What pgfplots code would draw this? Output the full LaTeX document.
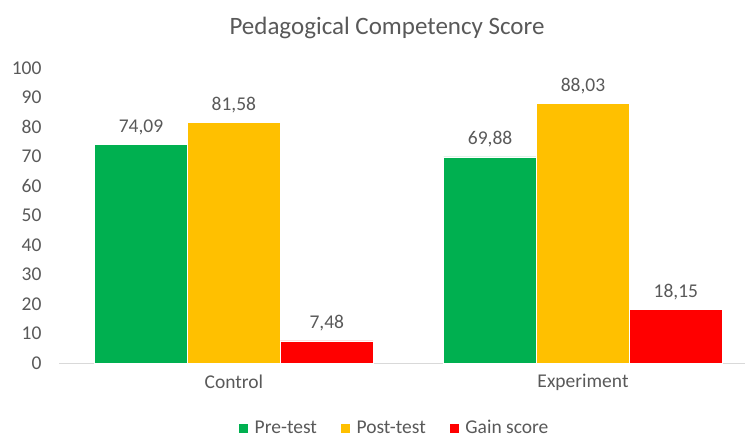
\documentclass[border=0pt]{standalone}
\usepackage{pgfplots}
\pgfplotsset{compat=1.18}
\usepackage{fontspec}
\setmainfont{Carlito}
\definecolor{cgreen}{HTML}{00B050}
\definecolor{cyellow}{HTML}{FFC000}
\definecolor{cred}{HTML}{FF0000}
\definecolor{txt}{HTML}{595959}
\definecolor{axl}{HTML}{D9D9D9}
\begin{document}
\begin{tikzpicture}
\useasboundingbox (0,0) rectangle (749bp,-439bp);
\node[anchor=base, text=txt, font=\fontsize{25bp}{30bp}\selectfont] at (387bp,-34bp) {Pedagogical Competency Score};
\begin{axis}[
  at={(59bp,-363bp)}, anchor=south west,
  scale only axis, width=686bp, height=295bp,
  xmin=-0.501, xmax=1.464, ymin=0, ymax=100,
  ytick={0,10,...,100},
  xtick={0,1}, xticklabels={Control,Experiment},
  major tick length=0pt,
  axis x line*=bottom, axis y line*=left,
  x axis line style={draw=axl, line width=1pt, -},
  y axis line style={draw=none},
  ybar, bar width=0.266, bar shift=0pt,
  every tick label/.append style={text=txt, font=\fontsize{19.5bp}{22bp}\selectfont},
  /pgf/number format/assume math mode=true,
  yticklabel style={xshift=-14bp},
  xticklabel style={yshift=-8bp},
  nodes near coords={\pgfmathprintnumber[use comma, fixed, fixed zerofill, precision=2]{\pgfplotspointmeta}},
  nodes near coords style={text=txt, font=\fontsize{19.5bp}{22bp}\selectfont, yshift=6bp},
  point meta=explicit,
  legend columns=3,
  legend style={draw=none, at={(0.488,-0.22)}, anchor=center, inner sep=0bp, nodes={inner sep=1bp}, font=\fontsize{19.5bp}{22bp}\selectfont, text=txt, /tikz/every even column/.append style={column sep=22bp}, /tikz/every odd column/.append style={column sep=5bp}},
  legend image code/.code={\fill[#1] (0bp,-5bp) rectangle (10bp,5bp);},
  clip=false,
]
\addplot[fill=cgreen, draw=white, line width=0.6pt] coordinates {(-0.266,74.09) [74.09] (0.734,69.88) [69.88]};
\addplot[fill=cyellow, draw=white, line width=0.6pt] coordinates {(0,81.58) [81.58] (1,88.03) [88.03]};
\addplot[fill=cred, draw=white, line width=0.6pt] coordinates {(0.266,7.48) [7.48] (1.266,18.15) [18.15]};
\legend{Pre-test, Post-test, Gain score}
\end{axis}
\end{tikzpicture}
\end{document}
